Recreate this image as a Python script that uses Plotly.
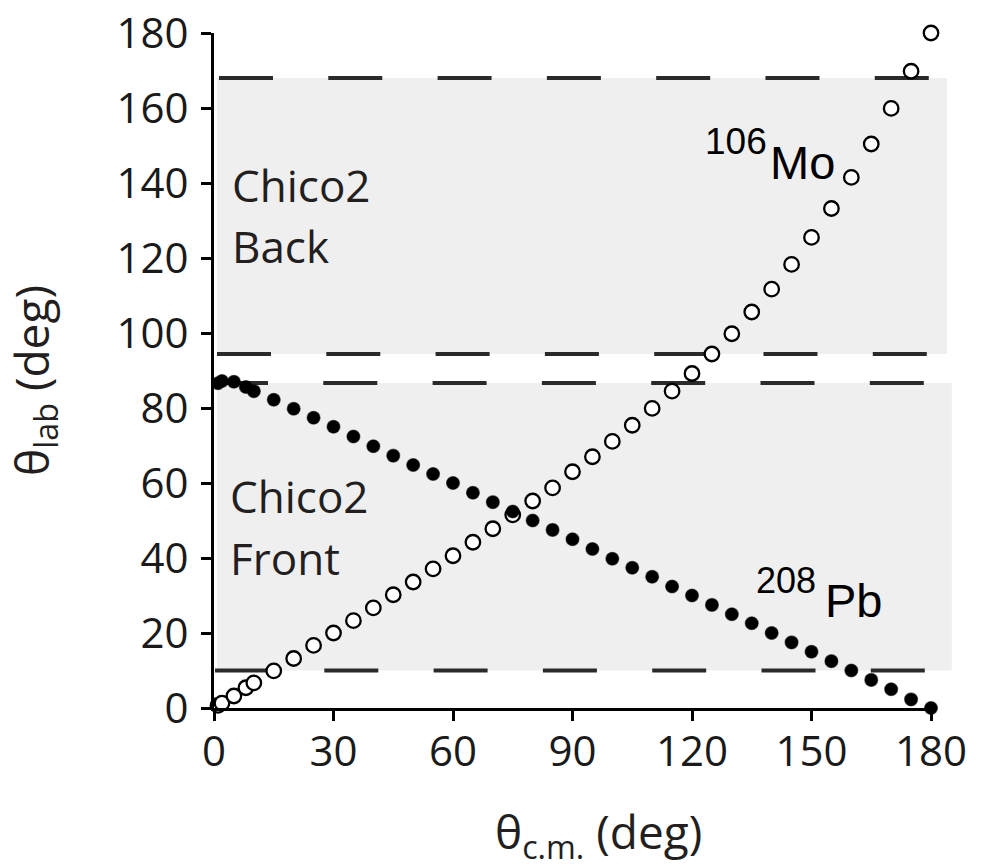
import plotly.graph_objects as go

# ---- data ----
theta_cm = [1, 2, 5, 8, 10, 15, 20, 25, 30, 35, 40, 45, 50, 55, 60, 65, 70, 75, 80,
            85, 90, 95, 100, 105, 110, 115, 120, 125, 130, 135, 140, 145, 150, 155,
            160, 165, 170, 175, 180]
mo_lab = [0.7, 1.3, 3.2, 5.4, 6.7, 9.9, 13.2, 16.7, 20.0, 23.3, 26.7, 30.2, 33.6,
          37.1, 40.6, 44.2, 47.8, 51.5, 55.2, 58.7, 63.0, 67.0, 71.1, 75.4, 79.9,
          84.5, 89.2, 94.4, 99.8, 105.6, 111.7, 118.3, 125.5, 133.2, 141.5, 150.4,
          159.9, 169.8, 180.0]
pb_lab = [86.6, 87.2, 87.0, 85.6, 84.5, 82.2, 79.8, 77.4, 75.0, 72.4, 69.8, 67.3,
          64.8, 62.4, 60.0, 57.4, 54.9, 52.4, 50.0, 47.5, 45.0, 42.4, 39.8, 37.4,
          35.0, 32.4, 30.0, 27.5, 25.0, 22.6, 20.0, 17.5, 15.0, 12.5, 10.0, 7.5,
          5.0, 2.3, 0.0]

# detector coverage bands (theta_lab, deg)
front_band = [10, 86.7]
back_band = [94.4, 168]

x_ticks = [0, 30, 60, 90, 120, 150, 180]
y_ticks = [0, 20, 40, 60, 80, 100, 120, 140, 160, 180]

Y_MAX = 180
FONT = "Open Sans"
TXT = "#231f20"

fig = go.Figure()

fig.add_trace(go.Scatter(
    x=theta_cm, y=mo_lab, mode="markers", cliponaxis=False,
    marker=dict(symbol="circle", size=14.5, color="white",
                line=dict(color="black", width=2.3)),
    showlegend=False))
fig.add_trace(go.Scatter(
    x=theta_cm, y=pb_lab, mode="markers", cliponaxis=False,
    marker=dict(symbol="circle", size=13, color="black",
                line=dict(color="rgba(0,0,0,0.5)", width=1.2)),
    showlegend=False))

shapes = []
# grey bands (paper refs so they may run past the axis end)
for band, right in ((back_band, 1.0223), (front_band, 1.029)):
    shapes.append(dict(type="rect", xref="paper", yref="paper",
                       x0=0.004, x1=right, y0=band[0] / Y_MAX, y1=band[1] / Y_MAX,
                       fillcolor="#efefef", line=dict(width=0), layer="below"))
# dashed limits
for yv, xs in ((back_band[1], 1.25), (back_band[0], 0.75), (front_band[1], 0.0), (front_band[0], 0.25)):
    shapes.append(dict(type="line", xref="x", yref="y", x0=xs, x1=179.8, y0=yv, y1=yv,
                       line=dict(color="#2a2a2a", width=4, dash="54px,55.3px"),
                       layer="below"))

annotations = [
    dict(x=4.0, y=139.6, text="Chico2", font=dict(family=FONT, size=44, color=TXT)),
    dict(x=4.0, y=123.3, text="Back", font=dict(family=FONT, size=44, color=TXT)),
    dict(x=3.5, y=56.5, text="Chico2", font=dict(family=FONT, size=44, color=TXT)),
    dict(x=3.5, y=40.0, text="Front", font=dict(family=FONT, size=44, color=TXT)),
    dict(x=122.8, y=151.1, text="106", font=dict(family="Liberation Sans", size=37, color="black")),
    dict(x=139.0, y=145.5, text="Mo", font=dict(family="Liberation Sans", size=47, color="black")),
    dict(x=135.6, y=34.1, text="208", font=dict(family="Liberation Sans", size=36, color="black")),
    dict(x=152.8, y=28.7, text="Pb", font=dict(family="Liberation Sans", size=47, color="black")),
]
for a in annotations:
    a.update(xref="x", yref="y", xanchor="left", yanchor="middle", showarrow=False)

annotations.append(dict(
    xref="paper", yref="paper", x=-0.252, y=0.485, textangle=-90,
    text="θ<sub>lab</sub> (deg)", showarrow=False, xanchor="center", yanchor="middle",
    font=dict(family=FONT, size=46, color=TXT)))
annotations.append(dict(
    xref="paper", yref="paper", x=0.5356, y=-0.186,
    text="θ<sub>c.m.</sub> (deg)", showarrow=False, xanchor="center", yanchor="middle",
    font=dict(family=FONT, size=46, color=TXT)))

axis_common = dict(showline=True, linecolor="black", linewidth=3, ticks="outside",
                   ticklen=10, tickwidth=3, tickcolor="black", showgrid=False,
                   zeroline=False, automargin=False,
                   tickfont=dict(family=FONT, size=42, color="#1a1a1a"))

fig.update_layout(
    width=983, height=868,
    margin=dict(l=214, r=52, t=33, b=160),
    paper_bgcolor="white", plot_bgcolor="rgba(0,0,0,0)",
    xaxis=dict(range=[0, 180], tickvals=x_ticks, ticklabelstandoff=-5, **axis_common),
    yaxis=dict(range=[0, Y_MAX], tickvals=y_ticks, ticklabelstandoff=4, **axis_common),
    shapes=shapes, annotations=annotations,
)

fig.write_html("out.html")
